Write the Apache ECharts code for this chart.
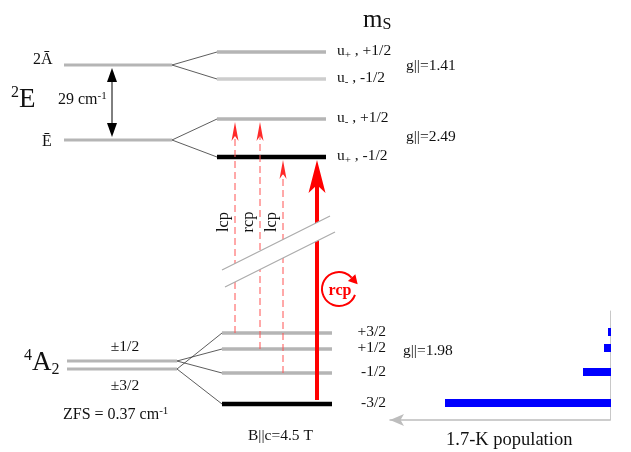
<!DOCTYPE html>
<html><head><meta charset="utf-8">
<script src="https://cdn.jsdelivr.net/npm/echarts@6/dist/echarts.min.js"></script>
<style>html,body{margin:0;padding:0;background:#fff}#c{width:631px;height:452px}</style>
</head><body><div id="c"></div>
<script>
// ---------- data (schematic diagram units; y grows downward = lower energy) ----------
const zeroFieldLevels = [ // name, x start, x end, energy position
  ['2Ā', 64, 172, 65],
  ['Ē', 64, 172, 140],
  ['±1/2', 67, 177, 361],
  ['±3/2', 67, 177, 369]
];
const fieldLevels = [ // m_S label, x start, x end, energy position, parent zero-field level, shade
  ['u+ , +1/2', 217, 326, 52, 0, 'gray'],
  ['u- , -1/2', 217, 326, 79, 0, 'light'],
  ['u- , +1/2', 217, 326, 119, 1, 'gray'],
  ['u+ , -1/2', 217, 326, 157, 1, 'black'],
  ['+3/2', 222, 332, 333, 3, 'gray'],
  ['+1/2', 222, 332, 349, 2, 'gray'],
  ['-1/2', 222, 332, 373, 2, 'gray'],
  ['-3/2', 222, 332, 404, 3, 'black']
];
const transitions = [ // polarization, x position, from level, to level, kind
  ['lcp', 235, 4, 2, 'dashed'],
  ['rcp', 260, 5, 2, 'dashed'],
  ['lcp', 283, 6, 3, 'dashed'],
  ['rcp', 317, 7, 3, 'solid']
];
const popStates = ['+3/2', '+1/2', '-1/2', '-3/2'];
const popLevelIndex = [4, 5, 6, 7];
const popValues = [0.01, 0.03, 0.135, 0.825];
const gFactors = ['g||=1.41', 'g||=2.49', 'g||=1.98'];

// ---------- rendering ----------
const SERIF = 'Liberation Serif';
const shade = {gray: ['#b5b5b5', 3.5], light: ['#cdcdcd', 3.5], black: ['#000000', 4.5]};
const RED = '#ff0000', RED_L = '#ff5252';

function richLabel(s) {
  const m = s.match(/^u([+-])(.*)$/);
  if (m) return '{n|u}{s|' + m[1] + '}{n|' + m[2] + '}';
  return '{n|' + s + '}';
}
const labelRich = {
  n: {fontFamily: SERIF, fontSize: 15.5, fill: '#111', lineHeight: 19},
  s: {fontFamily: SERIF, fontSize: 11, fill: '#111', verticalAlign: 'bottom'}
};

const chart = echarts.init(document.getElementById('c'), null, {renderer: 'canvas'});

function arrowHead(x, tipY, w, L, n, fill) {
  return {type: 'polygon', shape: {points: [[x, tipY], [x + w / 2, tipY + L], [x, tipY + L - n], [x - w / 2, tipY + L]]},
    style: {fill: fill}};
}

const option = {
  animation: false,
  grid: [
    {left: 0, right: 0, top: 0, bottom: 0},
    {left: 390, right: 21, top: 311, bottom: 32}
  ],
  xAxis: [
    {type: 'value', min: 0, max: 631, show: false, gridIndex: 0},
    {type: 'value', min: 0, max: 1.1, inverse: true, gridIndex: 1,
      axisLine: {show: true, onZero: false, symbol: ['arrow', 'none'], symbolSize: [9, 14], lineStyle: {color: '#bdbdbd', width: 1.5}},
      axisTick: {show: false}, axisLabel: {show: false}, splitLine: {show: false}}
  ],
  yAxis: [
    {type: 'value', min: 0, max: 452, inverse: true, show: false, gridIndex: 0},
    {type: 'value', min: 311, max: 420, inverse: true, gridIndex: 1, position: 'right',
      axisLine: {show: true, onZero: false, lineStyle: {color: '#c8c8c8', width: 1}},
      axisTick: {show: false}, axisLabel: {show: false}, splitLine: {show: false}}
  ],
  series: [
    { // zero-field levels
      type: 'custom', xAxisIndex: 0, yAxisIndex: 0, z: 2,
      data: zeroFieldLevels.map(l => [l[1], l[2], l[3]]),
      encode: {x: [0, 1], y: 2},
      renderItem: (params, api) => {
        const a = api.coord([api.value(0), api.value(2)]), b = api.coord([api.value(1), api.value(2)]);
        return {type: 'line', shape: {x1: a[0], y1: a[1], x2: b[0], y2: b[1]}, style: {stroke: '#b5b5b5', lineWidth: 3}};
      }
    },
    { // field-split levels + connectors + m_S labels
      type: 'custom', xAxisIndex: 0, yAxisIndex: 0, z: 3,
      data: fieldLevels.map(l => [l[1], l[2], l[3]]),
      encode: {x: [0, 1], y: 2},
      renderItem: (params, api) => {
        const lv = fieldLevels[params.dataIndex];
        const a = api.coord([lv[1], lv[3]]), b = api.coord([lv[2], lv[3]]);
        const par = zeroFieldLevels[lv[4]];
        const c = api.coord([par[2], par[3]]);
        const sh = shade[lv[5]];
        const isU = lv[0][0] === 'u';
        return {type: 'group', children: [
          {type: 'line', shape: {x1: c[0], y1: c[1], x2: a[0], y2: a[1]}, style: {stroke: '#333', lineWidth: 0.8}},
          {type: 'line', shape: {x1: a[0], y1: a[1], x2: b[0], y2: b[1]}, style: {stroke: sh[0], lineWidth: sh[1]}},
          {type: 'text', x: isU ? b[0] + 11 : b[0] + 54, y: b[1] - 1,
            style: {text: richLabel(lv[0]), rich: labelRich, align: isU ? 'left' : 'right', verticalAlign: 'middle'}}
        ]};
      }
    },
    { // optical transitions
      type: 'custom', xAxisIndex: 0, yAxisIndex: 0, z: 4,
      data: transitions.map(t => [t[1], fieldLevels[t[2]][3], fieldLevels[t[3]][3]]),
      encode: {x: 0, y: [1, 2]},
      renderItem: (params, api) => {
        const t = transitions[params.dataIndex];
        const from = api.coord([api.value(0), api.value(1)]);
        const to = api.coord([api.value(0), api.value(2)]);
        const solid = t[4] === 'solid';
        const tipY = to[1] + 3;
        const w = solid ? 17 : 7, L = solid ? 33 : 19, n = solid ? 8 : 5;
        const startY = solid ? from[1] - 4 : from[1];
        const children = [
          {type: 'line', shape: {x1: from[0], y1: startY, x2: from[0], y2: tipY + L - n},
            style: {stroke: solid ? RED : RED_L, lineWidth: solid ? 4 : 1, lineDash: solid ? null : [7, 4]}},
          arrowHead(to[0], tipY, w, L, n, solid ? RED : '#ff2a2a')
        ];
        if (!solid) {
          children.push({type: 'text', x: from[0] - 11, y: 222, rotation: Math.PI / 2,
            style: {text: t[0], fontFamily: SERIF, fontSize: 16.5, fill: '#111', align: 'center', verticalAlign: 'middle'}});
        }
        return {type: 'group', children: children};
      }
    },
    { // 1.7-K population bars
      type: 'custom', xAxisIndex: 1, yAxisIndex: 1, z: 5,
      data: popValues.map((v, i) => [v, fieldLevels[popLevelIndex[i]][3]]),
      encode: {x: 0, y: 1},
      renderItem: (params, api) => {
        const p = api.coord([api.value(0), api.value(1)]);
        const z0 = api.coord([0, api.value(1)]);
        const yc = p[1] - 1;
        return {type: 'rect', shape: {x: p[0], y: yc - 4, width: z0[0] - p[0] + 1, height: 8},
          style: {fill: '#0000ff'}};
      }
    }
  ],
  graphic: [
    // break mask and lines
    {type: 'polygon', z: 20, shape: {points: [[222, 270], [330, 216], [335, 232], [225, 287]]}, style: {fill: '#fff'}},
    {type: 'line', z: 21, shape: {x1: 222, y1: 270, x2: 330, y2: 216}, style: {stroke: '#aaaaaa', lineWidth: 1.2}},
    {type: 'line', z: 21, shape: {x1: 225, y1: 287, x2: 335, y2: 232}, style: {stroke: '#aaaaaa', lineWidth: 1.2}},
    // rcp circular symbol
    {type: 'arc', z: 22, shape: {cx: 339, cy: 289, r: 17, startAngle: 20 * Math.PI / 180, endAngle: 318 * Math.PI / 180, clockwise: true},
      style: {stroke: RED, lineWidth: 2, fill: null}},
    {type: 'polygon', z: 22, shape: {points: (() => {
      const th = 318 * Math.PI / 180, cx = 339, cy = 289, r = 17;
      const bx = cx + r * Math.cos(th), by = cy + r * Math.sin(th);
      const dx = -Math.sin(th), dy = Math.cos(th);
      return [[bx + dx * 9, by + dy * 9], [bx - dy * 5, by + dx * 5], [bx + dy * 5, by - dx * 5]];
    })()}, style: {fill: RED}},
    {type: 'text', z: 22, x: 340, y: 291, style: {text: 'rcp', fontFamily: SERIF, fontSize: 16, fontWeight: 'bold', fill: RED, align: 'center', verticalAlign: 'middle'}},
    // 29 cm-1 double arrow
    {type: 'line', shape: {x1: 112, y1: 76, x2: 112, y2: 129}, style: {stroke: '#000', lineWidth: 1}},
    {type: 'polygon', shape: {points: [[112, 68], [117, 82], [107, 82]]}, style: {fill: '#000'}},
    {type: 'polygon', shape: {points: [[112, 137], [117, 123], [107, 123]]}, style: {fill: '#000'}},
    // texts
    {type: 'text', x: 363, y: 20, style: {text: '{b|m}{s|S}', rich: {b: {fontFamily: SERIF, fontSize: 25, fill: '#111', lineHeight: 26}, s: {fontFamily: SERIF, fontSize: 16, fill: '#111', verticalAlign: 'bottom'}}, verticalAlign: 'middle'}},
    {type: 'text', x: 33, y: 60, style: {text: zeroFieldLevels[0][0], fontFamily: SERIF, fontSize: 16, fill: '#111', verticalAlign: 'middle'}},
    {type: 'text', x: 42, y: 142, style: {text: zeroFieldLevels[1][0], fontFamily: SERIF, fontSize: 16, fill: '#111', verticalAlign: 'middle'}},
    {type: 'text', x: 11, y: 100, style: {text: '{p|2}{b|E}', rich: {b: {fontFamily: SERIF, fontSize: 27, fill: '#111', lineHeight: 30}, p: {fontFamily: SERIF, fontSize: 16, fill: '#111', verticalAlign: 'top'}}, verticalAlign: 'middle'}},
    {type: 'text', x: 58, y: 100, style: {text: '{n|29 cm}{p|-1}', rich: {n: {fontFamily: SERIF, fontSize: 16, fill: '#111', lineHeight: 19}, p: {fontFamily: SERIF, fontSize: 11, fill: '#111', verticalAlign: 'top'}}, verticalAlign: 'middle'}},
    {type: 'text', x: 406, y: 66, style: {text: gFactors[0], fontFamily: SERIF, fontSize: 15.5, fill: '#111', verticalAlign: 'middle'}},
    {type: 'text', x: 406, y: 137, style: {text: gFactors[1], fontFamily: SERIF, fontSize: 15.5, fill: '#111', verticalAlign: 'middle'}},
    {type: 'text', x: 403, y: 351, style: {text: gFactors[2], fontFamily: SERIF, fontSize: 15.5, fill: '#111', verticalAlign: 'middle'}},
    {type: 'text', x: 24, y: 363, style: {text: '{p|4}{b|A}{s|2}', rich: {b: {fontFamily: SERIF, fontSize: 27, fill: '#111', lineHeight: 30}, p: {fontFamily: SERIF, fontSize: 16, fill: '#111', verticalAlign: 'top'}, s: {fontFamily: SERIF, fontSize: 16, fill: '#111', verticalAlign: 'bottom'}}, verticalAlign: 'middle'}},
    {type: 'text', x: 125, y: 347, style: {text: zeroFieldLevels[2][0], fontFamily: SERIF, fontSize: 15.5, fill: '#111', align: 'center', verticalAlign: 'middle'}},
    {type: 'text', x: 125, y: 386, style: {text: zeroFieldLevels[3][0], fontFamily: SERIF, fontSize: 15.5, fill: '#111', align: 'center', verticalAlign: 'middle'}},
    {type: 'text', x: 63, y: 415, style: {text: '{n|ZFS = 0.37 cm}{p|-1}', rich: {n: {fontFamily: SERIF, fontSize: 16, fill: '#111', lineHeight: 19}, p: {fontFamily: SERIF, fontSize: 11, fill: '#111', verticalAlign: 'top'}}, verticalAlign: 'middle'}},
    {type: 'text', x: 248, y: 436, style: {text: 'B||c=4.5 T', fontFamily: SERIF, fontSize: 15.5, fill: '#111', verticalAlign: 'middle'}},
    {type: 'text', x: 446, y: 440, style: {text: '1.7-K population', fontFamily: SERIF, fontSize: 18.5, fill: '#111', verticalAlign: 'middle'}}
  ]
};
chart.setOption(option);
</script>
</body></html>
